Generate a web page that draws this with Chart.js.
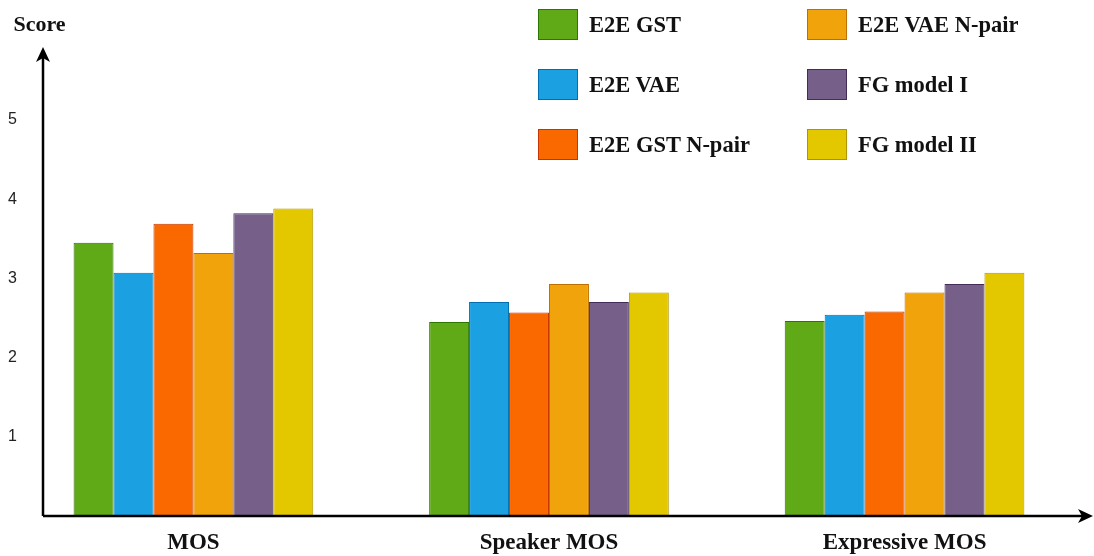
<!DOCTYPE html>
<html>
<head>
<meta charset="utf-8">
<script src="https://cdn.jsdelivr.net/npm/chart.js@4/dist/chart.umd.min.js"></script>
<style>
  html, body { margin: 0; padding: 0; background: #fff; }
  #wrap { position: relative; width: 1094px; height: 556px; }
  #legend {
    position: absolute; left: 538px; top: 9px;
    display: grid; grid-auto-flow: column;
    grid-template-rows: repeat(3, 31px); grid-template-columns: 269px 240px;
    row-gap: 29px;
    font: bold 22.5px "Liberation Serif", "DejaVu Serif", serif; color: #111;
  }
  .item { display: flex; align-items: center; white-space: nowrap; }
  .sw { width: 38px; height: 29px; border: 1px solid; margin-right: 11px; }
</style>
</head>
<body>
<div id="wrap">
  <canvas id="chart" width="1094" height="556"></canvas>
  <div id="legend"></div>
</div>
<script>
// ─── Data ───

var categories = ["MOS", "Speaker MOS", "Expressive MOS"];
var seriesNames = ["E2E GST", "E2E VAE", "E2E GST N-pair", "E2E VAE N-pair", "FG model I", "FG model II"];

var e2eGst      = [3.45, 2.45, 2.46];
var e2eVae      = [3.07, 2.70, 2.54];
var e2eGstNpair = [3.69, 2.57, 2.58];
var e2eVaeNpair = [3.32, 2.93, 2.82];
var fgModel1    = [3.82, 2.70, 2.93];
var fgModel2    = [3.88, 2.82, 3.07];

var yTicks = [1, 2, 3, 4, 5];
var yTitle = "Score";

var seriesValues = [e2eGst, e2eVae, e2eGstNpair, e2eVaeNpair, fgModel1, fgModel2];

// draw.io palette: fill / stroke
var fills   = ["#60a917", "#1ba1e2", "#fa6800", "#f0a30a", "#76608a", "#e3c800"];
var strokes = ["#2d7600", "#006eaf", "#c73500", "#bd7000", "#432d57", "#b09500"];

var serif = "'Liberation Serif', 'DejaVu Serif', serif";

// ─── Legend ───

var legend = document.getElementById("legend");
seriesNames.forEach(function (name, i) {
  var item = document.createElement("div");
  item.className = "item";
  var sw = document.createElement("span");
  sw.className = "sw";
  sw.style.background = fills[i];
  sw.style.borderColor = strokes[i];
  var label = document.createElement("span");
  label.textContent = name;
  item.appendChild(sw);
  item.appendChild(label);
  legend.appendChild(item);
});

// ─── Axes with arrows + "Score" label ───

var arrowAxes = {
  id: "arrowAxes",
  afterDatasetsDraw: function (chart) {
    var ctx = chart.ctx;
    var area = chart.chartArea;
    var y0 = chart.scales.y.getPixelForValue(0);
    var x0 = area.left;
    ctx.save();
    ctx.strokeStyle = "#000";
    ctx.fillStyle = "#000";
    ctx.lineWidth = 2.5;
    ctx.beginPath();
    ctx.moveTo(x0, y0);
    ctx.lineTo(area.right - 10, y0);
    ctx.moveTo(x0, y0);
    ctx.lineTo(x0, area.top + 10);
    ctx.stroke();
    // right arrowhead
    ctx.beginPath();
    ctx.moveTo(area.right, y0);
    ctx.lineTo(area.right - 15, y0 - 7);
    ctx.lineTo(area.right - 11, y0);
    ctx.lineTo(area.right - 15, y0 + 7);
    ctx.closePath();
    ctx.fill();
    // top arrowhead
    ctx.beginPath();
    ctx.moveTo(x0, area.top);
    ctx.lineTo(x0 - 7, area.top + 15);
    ctx.lineTo(x0, area.top + 11);
    ctx.lineTo(x0 + 7, area.top + 15);
    ctx.closePath();
    ctx.fill();
    // axis title
    ctx.fillStyle = "#111";
    ctx.font = "bold 22px " + serif;
    ctx.textAlign = "center";
    ctx.textBaseline = "middle";
    ctx.fillText(yTitle, x0 - 3.5, 25);
    ctx.restore();
  }
};

// ─── Chart ───

new Chart(document.getElementById("chart"), {
  type: "bar",
  data: {
    datasets: seriesNames.map(function (name, i) {
      return {
        label: name,
        data: categories.map(function (c, j) { return { x: j, y: seriesValues[i][j] }; }),
        backgroundColor: fills[i],
        borderColor: strokes[i],
        borderWidth: 1,
        categoryPercentage: 0.674,
        barPercentage: 1,
      };
    }),
  },
  options: {
    responsive: false,
    animation: false,
    layout: { padding: { left: 0, right: 1, top: 47, bottom: 0 } },
    plugins: {
      legend: { display: false },
      tooltip: { enabled: false },
    },
    scales: {
      x: {
        type: "linear",
        offset: false,
        min: -0.423,
        max: 2.53,
        grid: { display: false, drawTicks: false },
        border: { display: false },
        afterBuildTicks: function (scale) {
          scale.ticks = categories.map(function (c, i) { return { value: i }; });
        },
        afterFit: function (scale) { scale.height = 40; },
        ticks: {
          padding: 13,
          color: "#111",
          maxRotation: 0,
          autoSkip: false,
          font: { family: serif, size: 23, weight: "bold" },
          callback: function (v) { return categories[v] !== undefined ? categories[v] : ""; },
        },
      },
      y: {
        min: 0,
        max: 5.92,
        grid: { display: false, drawTicks: false },
        border: { display: false },
        afterBuildTicks: function (scale) {
          scale.ticks = yTicks.map(function (v) { return { value: v }; });
        },
        afterFit: function (scale) { scale.width = 43; },
        ticks: {
          padding: 26,
          color: "#222",
          font: { family: "'Liberation Sans', Arial, sans-serif", size: 16 },
        },
      },
    },
  },
  plugins: [arrowAxes],
});
</script>
</body>
</html>
